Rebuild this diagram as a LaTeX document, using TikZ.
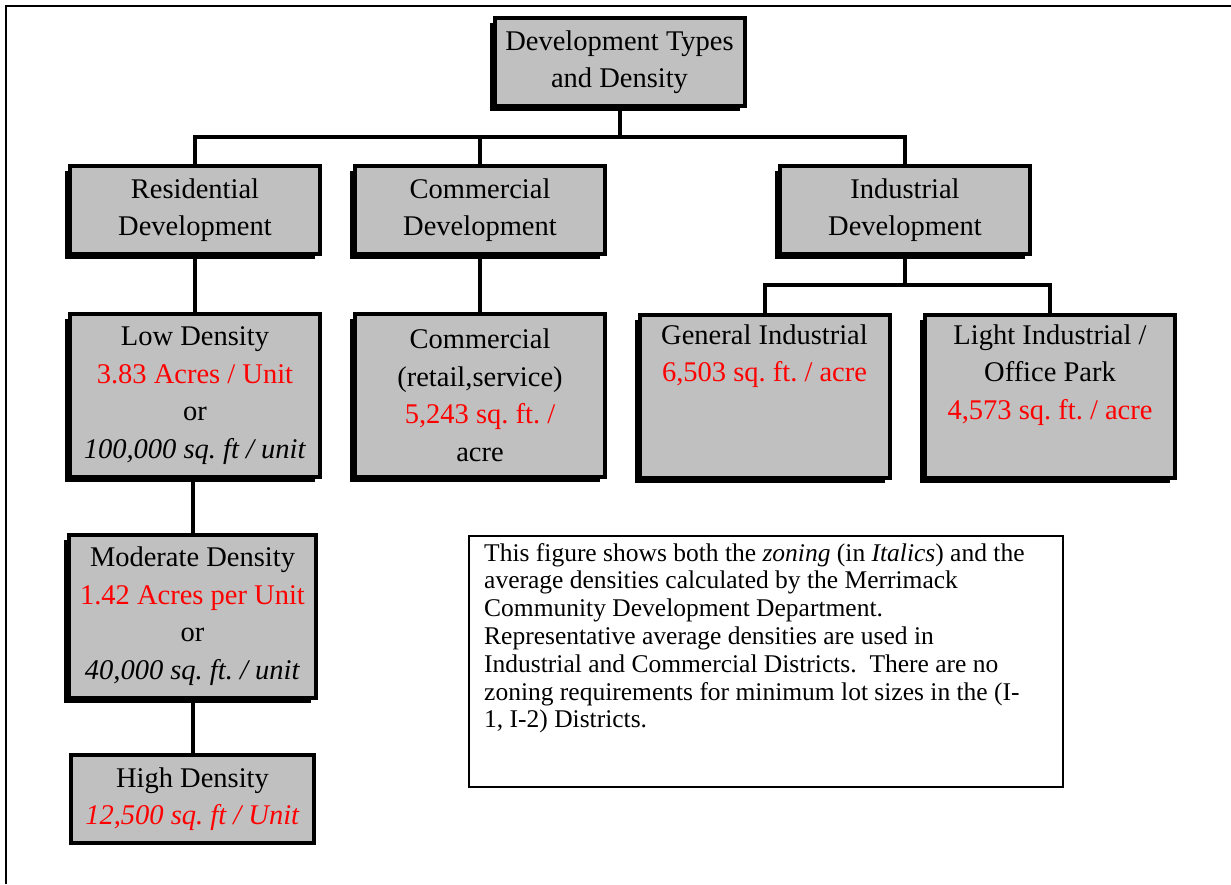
\documentclass[tikz,border=0pt]{standalone}
\usepackage{fontspec}
\setmainfont{Liberation Serif}
\usetikzlibrary{shadows}
\frenchspacing
\definecolor{boxgray}{RGB}{192,192,192}
\definecolor{densred}{RGB}{255,0,0}
\newcommand{\boxfont}{\fontsize{28.5}{37.5}\selectfont}
\newcommand{\descfont}{\fontsize{25.5}{27.8}\selectfont}
\newcommand{\rd}[1]{{\color{densred}#1}}
\begin{document}
\begin{tikzpicture}[x=1pt,y=-1pt,
  box/.style={draw, line width=4pt, fill=boxgray, align=center, inner sep=0pt,
    font=\boxfont, minimum width=250pt},
  twoline/.style={minimum height=88pt},
  fourline/.style={minimum height=163pt},
  shad/.style={drop shadow={shadow xshift=-5pt, shadow yshift=-5pt, fill=black, opacity=1}},
  conn/.style={line width=4pt},
  descbox/.style={draw, line width=2pt, minimum width=594pt, minimum height=251pt, inner sep=0pt},
  desctext/.style={align=left, inner sep=0pt, font=\descfont}
]
\useasboundingbox (0,0) rectangle (1231,884);
% outer frame (top and left edges only)
\draw[line width=2pt] (6,884) -- (6,6) -- (1231,6);

% boxes
\node[box, twoline, shad] (top) at (619.5,62) {Development Types\\and Density};
\node[box, twoline, shad] (res) at (195,210) {Residential\\Development};
\node[box, twoline, shad] (comdev) at (480,210) {Commercial\\Development};
\node[box, twoline, shad] (ind) at (905,210) {Industrial\\Development};

\node[box, fourline, shad] (low) at (195,395.5) {Low Density\\\rd{3.83 Acres / Unit}\\or\\\textit{100,000 sq. ft / unit}};
\node[box, fourline, shad] (comret) at (480,395) {Commercial\\(retail,service)\\\rd{5,243 sq. ft. /}\\acre};
\node[box, fourline, shad] (gen) at (764.5,396) {General Industrial\\\rd{6,503 sq. ft. / acre}\\\strut\\\strut};
\node[box, fourline, shad] (light) at (1050,396) {Light Industrial /\\Office Park\\\rd{4,573 sq. ft. / acre}\\\strut};
\node[box, fourline, shad, minimum width=247pt] (mod) at (192.5,616) {Moderate Density\\\rd{1.42 Acres per Unit}\\or\\\textit{40,000 sq. ft. / unit}};
\node[box, twoline, minimum width=243pt] (high) at (192.5,799) {High Density\\\rd{\textit{12,500 sq. ft / Unit}}};

% connectors
\coordinate (bus1) at (0,137);
\coordinate (bus2) at (0,285);
\draw[conn] (top.south) -- (top.south |- bus1);
\draw[conn] (res.north) |- (ind.north |- bus1) -- (ind.north);
\draw[conn] (comdev.north) -- (comdev.north |- bus1);
\draw[conn] (res.south) -- (low.north);
\draw[conn] (low.south -| mod.north) -- (mod.north);
\draw[conn] (mod.south) -- (high.north);
\draw[conn] (comdev.south) -- (comret.north);
\draw[conn] (ind.south) -- (ind.south |- bus2);
\draw[conn] (gen.north) |- (light.north |- bus2) -- (light.north);

% description
\node[descbox, anchor=north west] (desc) at (468,535) {};
\node[desctext, anchor=north west] (desctxt) at (484,543) {This figure shows both the \textit{zoning} (in \textit{Italics}) and the\\
average densities calculated by the Merrimack\\
Community Development Department.\\
Representative average densities are used in\\
Industrial and Commercial Districts.\ \ There are no\\
zoning requirements for minimum lot sizes in the (I-\\
1, I-2) Districts.};
\end{tikzpicture}
\end{document}
